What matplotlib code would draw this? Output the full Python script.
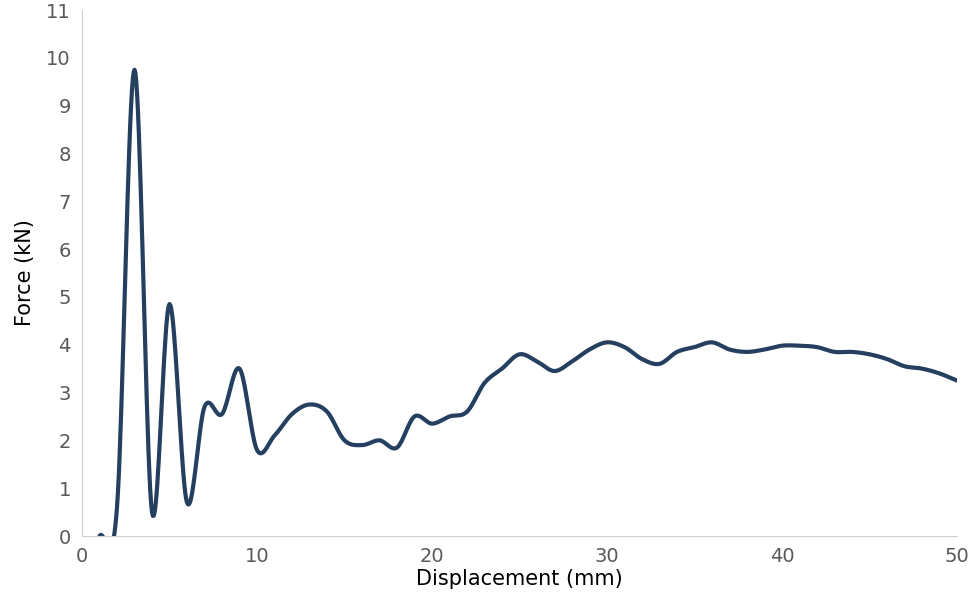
import matplotlib
matplotlib.use("Agg")
import matplotlib.pyplot as plt
import numpy as np

# values, one per mm
displacement = list(range(1, 51))
force = [0.0, 0.6, 9.75, 0.5, 4.85, 0.7, 2.7, 2.55, 3.5, 1.8,
         2.1, 2.55, 2.75, 2.6, 2.0, 1.9, 2.0, 1.85, 2.5, 2.35,
         2.5, 2.6, 3.2, 3.5, 3.8, 3.65, 3.45, 3.65, 3.9, 4.05,
         3.95, 3.7, 3.6, 3.85, 3.95, 4.05, 3.9, 3.85, 3.9, 3.98,
         3.98, 3.95, 3.85, 3.85, 3.8, 3.7, 3.55, 3.5, 3.4, 3.25]


def smooth(x, y, n=20):
    # Catmull-Rom style smoothing like Excel's smoothed line
    x = np.asarray(x, float)
    y = np.asarray(y, float)
    px = np.concatenate([[2 * x[0] - x[1]], x, [2 * x[-1] - x[-2]]])
    py = np.concatenate([[2 * y[0] - y[1]], y, [2 * y[-1] - y[-2]]])
    t = np.linspace(0, 1, n, endpoint=False)
    xs, ys = [], []
    for i in range(1, len(px) - 2):
        for p, out in ((px, xs), (py, ys)):
            p0, p1, p2, p3 = p[i - 1], p[i], p[i + 1], p[i + 2]
            out.extend(0.5 * (2 * p1 + (-p0 + p2) * t
                              + (2 * p0 - 5 * p1 + 4 * p2 - p3) * t ** 2
                              + (-p0 + 3 * p1 - 3 * p2 + p3) * t ** 3))
    xs.append(x[-1])
    ys.append(y[-1])
    return np.array(xs), np.array(ys)


sx, sy = smooth(displacement, force)

fig = plt.figure(figsize=(9.69, 6.12), dpi=100)
ax = fig.add_axes([82 / 969, 1 - 536 / 612, 875 / 969, 526 / 612])
ax.plot(sx, sy, color='#243f60', lw=3, solid_capstyle='round')
ax.set_xlim(0, 50)
ax.set_ylim(0, 11)
ax.set_xticks(range(0, 51, 10))
ax.set_yticks(range(0, 12))
for s in ('top', 'right'):
    ax.spines[s].set_visible(False)
for s in ('left', 'bottom'):
    ax.spines[s].set_color('#d0d0d0')
ax.tick_params(length=0, labelsize=14, colors='#595959', pad=8)
ax.set_xlabel('Displacement (mm)', fontsize=15, labelpad=2)
ax.set_ylabel('Force (kN)', fontsize=15, labelpad=8)
fig.savefig('out.png', dpi=100)
